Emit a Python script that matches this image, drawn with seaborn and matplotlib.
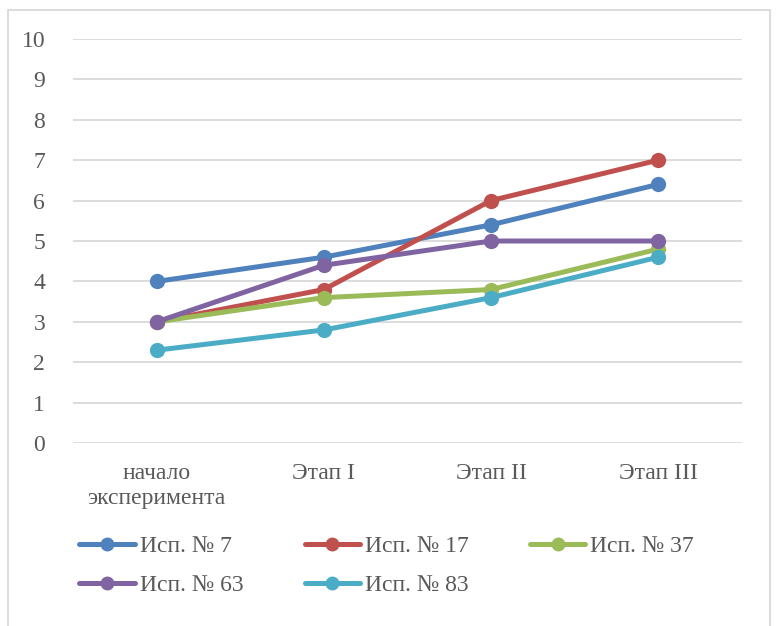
import matplotlib
matplotlib.use("Agg")
import matplotlib.pyplot as plt
import seaborn as sns
import pandas as pd
from matplotlib.patches import Rectangle

# Data
stages = ["начало\nэксперимента", "Этап I", "Этап II", "Этап III"]
series_names = ["Исп. № 7", "Исп. № 17", "Исп. № 37", "Исп. № 63", "Исп. № 83"]
isp_7 = [4.0, 4.6, 5.4, 6.4]
isp_17 = [3.0, 3.8, 6.0, 7.0]
isp_37 = [3.0, 3.6, 3.8, 4.8]
isp_63 = [3.0, 4.4, 5.0, 5.0]
isp_83 = [2.3, 2.8, 3.6, 4.6]
y_ticks = list(range(0, 11))

colors = ["#4F81BD", "#C0504D", "#9BBB59", "#8064A2", "#4BACC6"]

rows = []
for name, vals in zip(series_names, [isp_7, isp_17, isp_37, isp_63, isp_83]):
    for i, v in enumerate(vals):
        rows.append({"stage": i, "value": v, "series": name})
df = pd.DataFrame(rows)

sns.set_theme(style="white")
plt.rcParams["font.family"] = ["Liberation Serif", "DejaVu Serif"]
text_color = "#595959"
fs = 17

fig = plt.figure(figsize=(7.76, 6.26), dpi=100)
ax = fig.add_axes([0.094, 0.292, 0.862, 0.646])

sns.lineplot(data=df, x="stage", y="value", hue="series", hue_order=series_names,
             palette=colors, marker="o", markersize=11, markeredgewidth=0,
             linewidth=3.6, ax=ax, legend=True, zorder=3)

ax.set_xlim(-0.5, 3.5)
ax.set_ylim(0, 10)
ax.set_yticks(y_ticks)
ax.set_yticklabels([str(t) for t in y_ticks])
ax.set_xticks(range(len(stages)))
ax.set_xticklabels(stages, linespacing=1.25)
ax.tick_params(axis="both", length=0, labelsize=fs, labelcolor=text_color)
ax.tick_params(axis="y", pad=20)
ax.tick_params(axis="x", pad=14)
ax.set_xlabel("")
ax.set_ylabel("")
ax.yaxis.grid(True, color="#D9D9D9", linewidth=1.3)
ax.set_axisbelow(True)
for s in ax.spines.values():
    s.set_visible(False)

# Legend filled row by row: 7, 17, 37 / 63, 83
handles, labels = ax.get_legend_handles_labels()
lookup = dict(zip(labels, handles))
order = ["Исп. № 7", "Исп. № 63", "Исп. № 17", "Исп. № 83", "Исп. № 37"]
leg = ax.legend([lookup[k] for k in order], order, loc="upper left",
                bbox_to_anchor=(0.0095, -0.228), ncol=3, frameon=False,
                fontsize=fs, handlelength=2.35, handletextpad=0.2,
                columnspacing=2.6, labelspacing=0.75, labelcolor=text_color,
                borderaxespad=0, borderpad=0)
for h in leg.legend_handles:
    h.set_linewidth(3.6)
    h.set_markersize(10)

# Chart-area border
fig.patches.append(Rectangle((8 / 776, -0.02), 762 / 776, 1 - 10 / 626 + 0.02,
                             transform=fig.transFigure, fill=False,
                             edgecolor="#D9D9D9", linewidth=1.3))

fig.savefig("out.png", dpi=100, facecolor="white")
